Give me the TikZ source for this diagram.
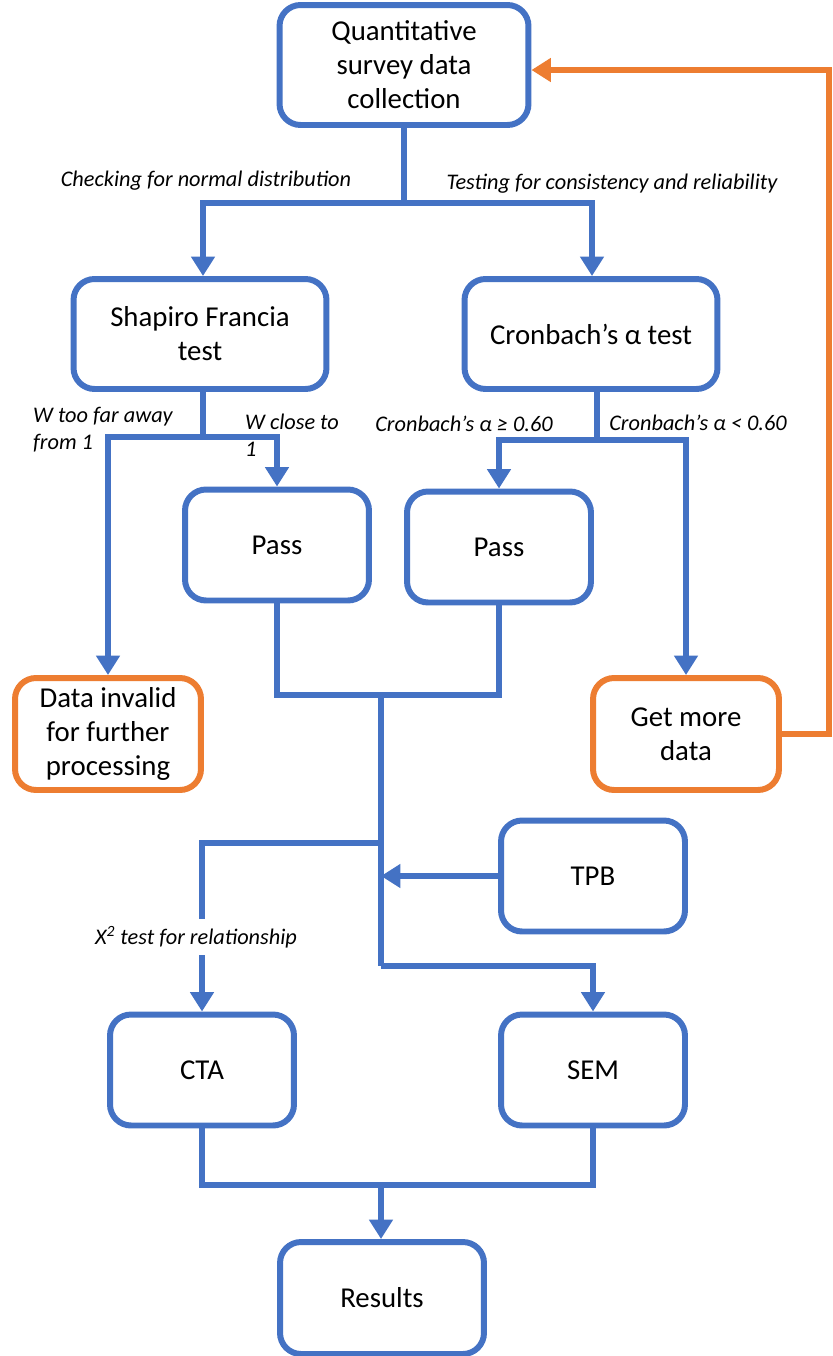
\documentclass[tikz,border=0pt]{standalone}
\usepackage{fontspec}
\setmainfont{Carlito}
\usepackage{xcolor}
\usetikzlibrary{arrows.meta,positioning,calc}
\definecolor{flowblue}{RGB}{68,114,196}
\definecolor{floworange}{RGB}{237,125,49}

\begin{document}
\begin{tikzpicture}[
    x=0.02cm, y=-0.02cm,
    box/.style={rectangle, rounded corners=0.42cm, draw=flowblue, line width=3.4pt, fill=white, align=center, font=\fontsize{16.4}{19.3}\selectfont, inner sep=2pt},
    obox/.style={box, draw=floworange},
    wide/.style={minimum width=5.06cm, minimum height=2.2cm},
    small/.style={minimum width=3.68cm, minimum height=2.22cm},
    lbl/.style={font=\fontsize{12.7}{15.3}\selectfont\itshape, inner sep=1pt, align=left},
    line/.style={draw=flowblue, line width=3.4pt},
    arrow/.style={line, -{Triangle[width=13pt,length=11pt]}},
    oarrow/.style={draw=floworange, line width=3pt, -{Triangle[width=13pt,length=11pt]}}
]
    \useasboundingbox (0,0) rectangle (832,1356);

    % Boxes
    \node[box, minimum width=4.98cm, minimum height=2.4cm] (quant) at (404,65) {Quantitative\\survey data\\collection};
    \node[box, wide] (shapiro) at (200,334) {Shapiro Francia\\test};
    \node[box, wide] (cronbach) at (591,334) {Cronbach’s α test};
    \node[box, small] (pass1) at (277,545) {Pass};
    \node[box, small] (pass2) at (499,547) {Pass};
    \node[obox, small, minimum width=3.72cm, minimum height=2.24cm] (invalid) at (108,734) {Data invalid\\for further\\processing};
    \node[obox, small, minimum width=3.72cm, minimum height=2.24cm] (more) at (686,734) {Get more\\data};
    \node[box, small] (tpb) at (593,876) {TPB};
    \node[box, small] (cta) at (202,1070) {CTA};
    \node[box, small] (sem) at (593,1070) {SEM};
    \node[box, small, minimum width=4.08cm, minimum height=2.24cm] (results) at (382,1298) {Results};

    % Branch points
    \coordinate (split1) at (404,203);
    \coordinate (split2) at (203,437);
    \coordinate (split3) at (597,440);
    \coordinate (merge1) at (381,695);
    \coordinate (tap) at (381,843);
    \coordinate (corner) at (381,966);
    \coordinate (merge2) at (381,1185);
    \coordinate (loop) at (829,70);

    % Top split
    \draw[line] (quant.south -| split1) -- (split1);
    \draw[arrow] (split1) -| ($(shapiro.north)+(3,0)$);
    \draw[arrow] (split1) -| ($(cronbach.north)+(1,0)$);

    % Shapiro Francia outcomes
    \draw[line] ($(shapiro.south)+(3,0)$) -- (split2);
    \draw[arrow] (split2) -| (invalid.north);
    \draw[arrow] (split2) -| (pass1.north);

    % Cronbach outcomes
    \draw[line] (cronbach.south -| split3) -- (split3);
    \draw[arrow] (split3) -| (pass2.north);
    \draw[arrow] (split3) -| (more.north);

    % Loop back for more data
    \draw[oarrow] (more.east) -| (loop) -- (quant.east |- loop);

    % Merge of the passes
    \draw[line] (pass1.south) |- (merge1) -| (pass2.south);
    \draw[line] (merge1) -- (corner);
    \draw[arrow] (corner) -| (sem.north);
    \draw[arrow] (tap) -| (cta.north);
    \draw[arrow] (tpb.west) -- (tpb.west -| tap);

    % Results
    \draw[line] (cta.south) |- (merge2) -| (sem.south);
    \draw[arrow] (merge2) -- (results.north -| merge2);

    % Labels
    \node[lbl] (lnormal) at (206,181) {Checking for normal distribution};
    \node[lbl] (lconsist) at (612,184) {Testing for consistency and reliability};
    \node[lbl, anchor=west] (lfar) at (31,430) {W too far away\\from 1};
    \node[lbl, anchor=west] (lclose) at (243,435) {W close to\\1};
    \node[lbl] (lge) at (464,424) {Cronbach’s α ≥ 0.60};
    \node[lbl] (llt) at (698,423) {Cronbach’s α < 0.60};
    \node[lbl, fill=white, inner sep=4pt] (lchi) at (196,937) {X\textsuperscript{2} test for relationship};
\end{tikzpicture}
\end{document}
